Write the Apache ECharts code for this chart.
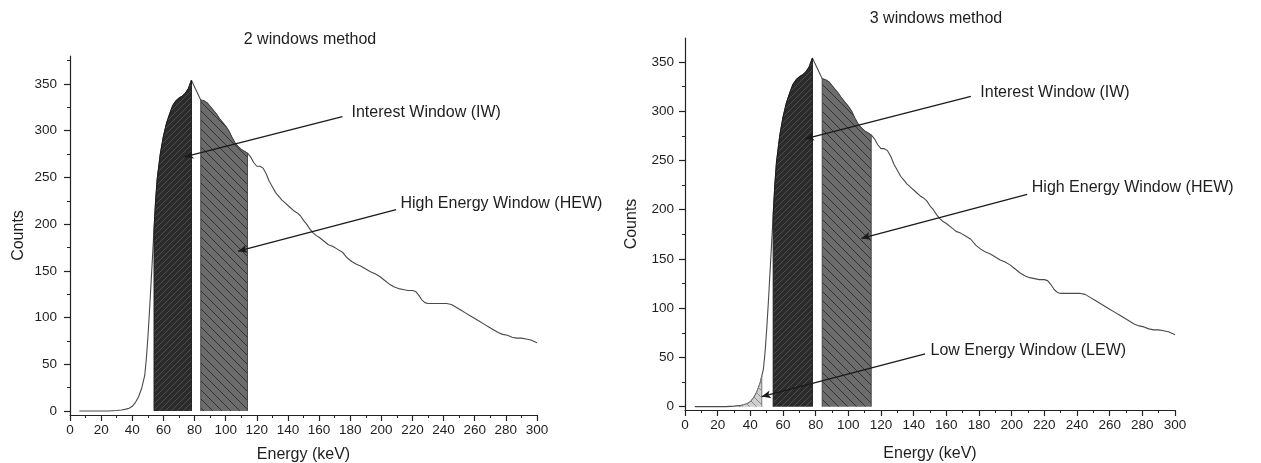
<!DOCTYPE html>
<html><head><meta charset="utf-8">
<script src="https://cdn.jsdelivr.net/npm/echarts@6/dist/echarts.min.js"></script>
<style>html,body{margin:0;padding:0;background:#fff}#c{width:1261px;height:463px}</style>
</head><body><div id="c"></div>
<script>
// ---- data ----
const energy = [6,10,15,20,25,30,33,36,38,40,42,44,46,47,48,49,50,51,52,53,54,55,56,58,60,62,64,66,68,70,72,74,76,78,84,86,88,90,92,94,96,98,100,102,104,106,108,110,112,114,116,118,120,122,124,126,128,130,132,134,136,138,140,142,144,146,148,150,152,154,156,158,160,163,166,169,172,175,178,181,184,187,190,193,196,199,202,205,208,211,214,217,220,222,224,226,228,230,233,236,239,242,245,248,251,254,257,260,263,266,269,272,275,278,281,284,287,290,293,296,300];
const counts = [0,0,0,0,0,0.5,1,2,3,5,9,15,24,31,38,55,78,105,135,165,195,225,248,275,294,308,318,327,332,335,337,340,345,354,333,332,330,326,322,318,313,309,305,300,293,287,283,280,278,276,272,266,262,262,260,254,246,240,234,230,226,223,220,217,214,212,209,204,200,195,191,188,186,182,178,176,173,170,164,160,157,155,152,149,147,144,140,136,133,131,130,129,129,128,124,119,116,115,115,115,115,115,114,111,108,105,102,99,96,93,90,87,84,82,81,79,78,78,77,76,73];
const yTickValues = [0,50,100,150,200,250,300,350];
const yMinorValues = [25,75,125,175,225,275,325,375];
const chartTitles = ['2 windows method','3 windows method'];
// energy windows [low, high] in keV
const windowIW = [54,78];
const windowHEW = [84,114];
const windowLEW = [33,47];
// annotation texts and anchors (data coordinates: keV, counts)
const annoTexts = ['Interest Window (IW)','High Energy Window (HEW)','Low Energy Window (LEW)'];
const annoFrom = [[175,315],[209.5,215.5],[147,53.6]];
const annoTo = [[73.5,272],[108,171],[47,10.2]];
const annoTextAt = [[180.5,319],[212,222.5],[150,57]];

// ---- helpers ----
const FONT = "'Liberation Sans', Arial, sans-serif";
const TXT = '#1e1e1e';
function hatch(bg, fg, step, dir, lw){
  const c = document.createElement('canvas'); c.width = step; c.height = step;
  const g = c.getContext('2d'); g.fillStyle = bg; g.fillRect(0,0,step,step);
  g.strokeStyle = fg; g.lineWidth = lw; g.beginPath();
  for (let k=-1;k<=1;k++){
    if (dir === '/') { g.moveTo(k*step, step); g.lineTo(k*step+step, 0); }
    else { g.moveTo(k*step, 0); g.lineTo(k*step+step, step); }
  }
  g.stroke();
  return {image: c, repeat: 'repeat'};
}
const curve = energy.map((e,i)=>[e, counts[i]]);
function windowData(w){
  const pts = curve.filter(p => p[0] >= w[0] && p[0] <= w[1]);
  return [[w[0],0]].concat(pts, [[w[1],0]]);
}
const styles = {
  IW: {fill: hatch('#2b2b2b','#4d4d4d',6,'/',1), border:'#1a1a1a'},
  HEW: {fill: hatch('#6c6c6c','#333333',9,'\\',1), border:'#444'},
  LEW: {fill: hatch('#d0d0d0','#8a8a8a',7,'\\',1), border:'#777'}
};

function axesFor(gi, yMin, yMax, labelMargin, nameGap){
  const common = {gridIndex: gi, type:'value', min: yMin, max: yMax, splitLine:{show:false}, position:'left'};
  return [
    Object.assign({}, common, {
      name:'Counts', nameLocation:'middle', nameGap: nameGap,
      nameTextStyle:{fontSize:16, color:TXT, fontFamily:FONT},
      axisLine:{show:true, lineStyle:{color:'#222', width:1.2}},
      axisTick:{show:true, customValues: yTickValues, length:6, lineStyle:{color:'#222', width:1.2}},
      axisLabel:{customValues: yTickValues, fontSize:13.5, color:TXT, fontFamily:FONT, margin: labelMargin}
    }),
    Object.assign({}, common, {
      axisLine:{show:false},
      axisTick:{show:true, customValues: yMinorValues.filter(v=>v<=yMax), length:3, lineStyle:{color:'#222', width:1}},
      axisLabel:{show:false}
    })
  ];
}
function xAxisFor(gi, nameGap){
  return {
    gridIndex: gi, type:'value', min:0, max:300, interval:20,
    name:'Energy (keV)', nameLocation:'middle', nameGap: nameGap,
    nameTextStyle:{fontSize:16, color:TXT, fontFamily:FONT},
    axisLine:{show:true, onZero:false, lineStyle:{color:'#222', width:1.2}},
    axisTick:{show:true, length:6, lineStyle:{color:'#222', width:1.2}},
    minorTick:{show:true, splitNumber:2, length:3, lineStyle:{color:'#222', width:1}},
    axisLabel:{fontSize:13.5, color:TXT, fontFamily:FONT, margin:8},
    splitLine:{show:false}
  };
}
function annoSeries(xi, yi, idxs){
  return {
    type:'line', xAxisIndex:xi, yAxisIndex:yi, data:[], silent:true, animation:false, z:5,
    markLine:{
      silent:true, animation:false, symbol:['none','arrow'], symbolSize:[6,9],
      lineStyle:{color:'#1a1a1a', width:1.3, type:'solid'}, label:{show:false},
      data: idxs.map(i => [{coord: annoFrom[i]}, {coord: annoTo[i]}])
    },
    markPoint:{
      silent:true, animation:false, symbol:'circle', symbolSize:1, itemStyle:{color:'rgba(0,0,0,0)'},
      label:{show:true, position:'right', distance:0, color:TXT, fontSize:16, fontFamily:FONT,
        formatter: p => p.name},
      data: idxs.map(i => ({name: annoTexts[i], coord: annoTextAt[i]}))
    }
  };
}
function winSeries(xi, yi, w, key){
  return {type:'line', xAxisIndex:xi, yAxisIndex:yi, data: windowData(w), symbol:'none', silent:true,
    animation:false, z:3, lineStyle:{color: styles[key].border, width:1},
    areaStyle:{color: styles[key].fill, opacity:1, origin:0}};
}
function curveSeries(xi, yi){
  return {type:'line', xAxisIndex:xi, yAxisIndex:yi, data: curve, symbol:'none', silent:true,
    animation:false, z:2, lineStyle:{color:'#4a4a4a', width:1.1}};
}

const yL = axesFor(0, -4.3, 380, 13, 43);
const yR = axesFor(1, -3.4, 374.4, 11, 45);
const option = {
  backgroundColor:'#fff',
  animation:false,
  title:[
    {text: chartTitles[0], left: 305, top: 27, textAlign:'center', textStyle:{fontSize:16, fontWeight:'normal', color:TXT, fontFamily:FONT}},
    {text: chartTitles[1], left: 931, top: 6, textAlign:'center', textStyle:{fontSize:16, fontWeight:'normal', color:TXT, fontFamily:FONT}}
  ],
  grid:[
    {left:70, top:56, width:467, height:359, containLabel:false, outerBoundsMode:'none'},
    {left:685, top:38, width:490, height:372, containLabel:false, outerBoundsMode:'none'}
  ],
  xAxis:[xAxisFor(0, 32), xAxisFor(1, 36)],
  yAxis:[yL[0], yL[1], yR[0], yR[1]],
  series:[
    curveSeries(0,0),
    winSeries(0,0,windowIW,'IW'),
    winSeries(0,0,windowHEW,'HEW'),
    annoSeries(0,0,[0,1]),
    curveSeries(1,2),
    winSeries(1,2,windowLEW,'LEW'),
    winSeries(1,2,windowIW,'IW'),
    winSeries(1,2,windowHEW,'HEW'),
    annoSeries(1,2,[0,1,2])
  ]
};
const chart = echarts.init(document.getElementById('c'), null, {renderer:'canvas'});
chart.setOption(option);
</script></body></html>
